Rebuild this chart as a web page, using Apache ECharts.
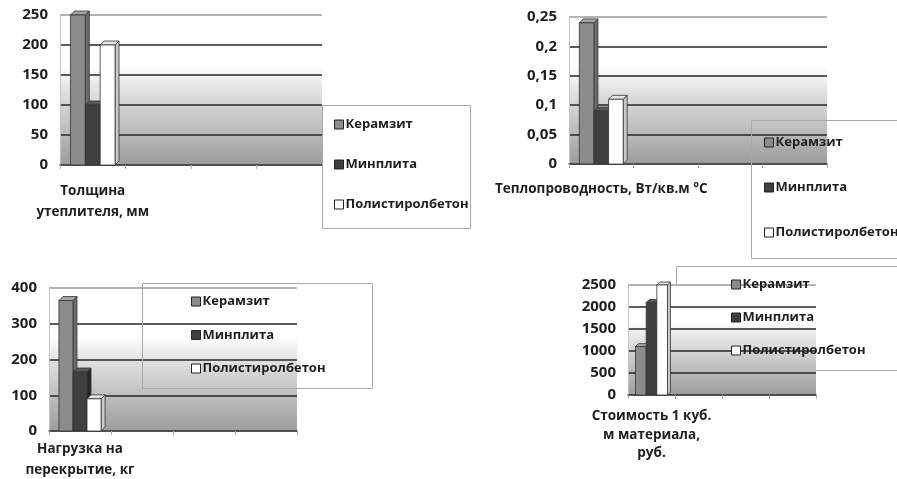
<!DOCTYPE html>
<html>
<head>
<meta charset="utf-8">
<script src="https://cdn.jsdelivr.net/npm/echarts@6/dist/echarts.min.js"></script>
<style>
  html, body { margin: 0; padding: 0; background: #fff; }
  #chart { width: 897px; height: 479px; }
</style>
</head>
<body>
<div id="chart"></div>
<script>
// Materials compared in every panel
const materials = ['Керамзит', 'Минплита', 'Полистиролбетон'];

// Category labels (only the first slot of each panel holds data)
const catThickness = ['Толщина\nутеплителя, мм', '', '', ''];
const catConductivity = ['Теплопроводность, Вт/кв.м °С', '', '', ''];
const catLoad = ['Нагрузка на\nперекрытие, кг', '', '', ''];
const catCost = ['Стоимость 1 куб.\nм материала,\nруб.', '', '', ''];

// Values per material: Керамзит, Минплита, Полистиролбетон
const thickness = [250, 100, 200];
const conductivity = [0.24, 0.09, 0.11];
const load = [365, 165, 90];
const cost = [1100, 2100, 2500];

// Value axis ranges: [max, step]
const axisThickness = [250, 50];
const axisConductivity = [0.25, 0.05];
const axisLoad = [400, 100];
const axisCost = [2500, 500];

const FONT = '"Open Sans", "Noto Sans", sans-serif';
const faces = [
  { front: '#8c8c8c', top: '#a4a4a4', side: '#6c6c6c' },
  { front: '#3f3f3f', top: '#5a5a5a', side: '#262626' },
  { front: '#ffffff', top: '#e4e4e4', side: '#c9c9c9' }
];

const wallGradient = new echarts.graphic.LinearGradient(0, 0, 0, 1, [
  { offset: 0, color: '#ffffff' },
  { offset: 0.34, color: '#ffffff' },
  { offset: 0.5, color: '#e2e2e2' },
  { offset: 1, color: '#9c9c9c' }
]);

const panels = [
  { grid: { left: 60, top: 15, width: 262, height: 150 }, cats: catThickness, values: thickness, axis: axisThickness,
    labelMargin: 16, lineHeight: 21, depth: 4, fmt: v => String(v) },
  { grid: { left: 569, top: 17, width: 258, height: 147 }, cats: catConductivity, values: conductivity, axis: axisConductivity,
    labelMargin: 15, lineHeight: 20, depth: 4, fmt: v => String(+v.toFixed(2)).replace('.', ',') },
  { grid: { left: 49, top: 288, width: 248, height: 143 }, cats: catLoad, values: load, axis: axisLoad,
    labelMargin: 8, lineHeight: 21, depth: 4, fmt: v => String(v) },
  { grid: { left: 628, top: 285, width: 188, height: 110 }, cats: catCost, values: cost, axis: axisCost,
    labelMargin: 12, lineHeight: 18.5, depth: 3, fmt: v => String(v) }
];

function splitColors(axis) {
  const n = Math.round(axis[0] / axis[1]) + 1;
  const arr = [];
  for (let i = 0; i < n; i++) arr.push(i === 0 ? '#555' : (i === n - 1 ? '#9a9a9a' : '#262626'));
  return arr;
}

// 3D-looking column: front face, top face and right side face
function makeRenderer(idx, depth) {
  return function (params, api) {
    const base = api.coord([api.value(0), 0]);
    const tip = api.coord([api.value(0), api.value(1)]);
    const band = api.size([1, 0])[0];
    const groupW = band * 0.68;
    const bw = groupW / 3;
    const x = base[0] - groupW / 2 + idx * bw;
    const yTop = tip[1];
    const yBot = base[1];
    const d = depth;
    const f = faces[idx];
    const stroke = { stroke: '#333', lineWidth: 0.8 };
    return {
      type: 'group',
      children: [
        { type: 'polygon', shape: { points: [[x + bw, yTop], [x + bw + d, yTop - d], [x + bw + d, yBot - d], [x + bw, yBot]] },
          style: Object.assign({ fill: f.side }, stroke) },
        { type: 'polygon', shape: { points: [[x, yTop], [x + d, yTop - d], [x + bw + d, yTop - d], [x + bw, yTop]] },
          style: Object.assign({ fill: f.top }, stroke) },
        { type: 'rect', shape: { x: x, y: yTop, width: bw, height: yBot - yTop },
          style: Object.assign({ fill: f.front }, stroke) }
      ]
    };
  };
}

const grid = [], xAxis = [], yAxis = [], series = [];
panels.forEach((p, k) => {
  grid.push(Object.assign({ show: true, backgroundColor: wallGradient, borderWidth: 0,
    containLabel: false, outerBoundsMode: 'none' }, p.grid));
  xAxis.push({
    type: 'category', gridIndex: k, data: p.cats, boundaryGap: true,
    axisLine: { lineStyle: { color: '#444', width: 1.6 } },
    axisTick: { show: true, length: 4, lineStyle: { color: '#aaa' } },
    axisLabel: { interval: 0, margin: p.labelMargin, color: '#1e1e1e', fontFamily: FONT, fontWeight: 'bold',
      fontSize: 13.5, lineHeight: p.lineHeight, align: 'center' }
  });
  yAxis.push({
    type: 'value', gridIndex: k, min: 0, max: p.axis[0], interval: p.axis[1],
    axisLine: { show: true, lineStyle: { color: '#c4c4c4', width: 1 } },
    axisTick: { show: false },
    axisLabel: { margin: 12, color: '#1e1e1e', fontFamily: FONT, fontWeight: 'bold', fontSize: 15, formatter: p.fmt },
    splitLine: { show: true, lineStyle: { color: splitColors(p.axis), width: 1.6 } }
  });
  materials.forEach((name, i) => {
    series.push({
      type: 'custom', name: name, xAxisIndex: k, yAxisIndex: k,
      itemStyle: { color: faces[i].front },
      renderItem: makeRenderer(i, p.depth),
      encode: { x: 0, y: 1 },
      data: [[0, p.values[i]]]
    });
  });
});

// Legend placement per panel: icon column x, top of first row, spacing between rows
const legendSpots = [
  { left: 334, top: 118, gap: 27 },
  { left: 764, top: 136, gap: 32 },
  { left: 191, top: 295, gap: 20.5 },
  { left: 731, top: 278, gap: 20 }
];
const legend = legendSpots.map(s => ({
  orient: 'vertical', left: s.left, top: s.top, itemGap: s.gap, padding: 0,
  icon: 'rect', itemWidth: 9, itemHeight: 9,
  itemStyle: { borderColor: '#222', borderWidth: 1 },
  textStyle: { fontFamily: FONT, fontWeight: 'bold', fontSize: 13, color: '#1e1e1e', padding: [0, 0, 0, -3] },
  selectedMode: false,
  data: materials
}));

// Legend frames
const frameStyle = { fill: 'none', stroke: '#a8a8a8', lineWidth: 1 };
const graphic = [
  { type: 'rect', shape: { x: 322.5, y: 105.5, width: 148, height: 123 }, style: frameStyle, z: 5 },
  { type: 'rect', shape: { x: 751.5, y: 120.5, width: 160, height: 138 }, style: frameStyle, z: 5 },
  { type: 'rect', shape: { x: 142.5, y: 283.5, width: 230, height: 105 }, style: frameStyle, z: 5 },
  { type: 'rect', shape: { x: 676.5, y: 266.5, width: 240, height: 104 }, style: frameStyle, z: -1 }
];

const chart = echarts.init(document.getElementById('chart'), null, { renderer: 'canvas' });
chart.setOption({
  animation: false,
  backgroundColor: '#ffffff',
  grid: grid, xAxis: xAxis, yAxis: yAxis, series: series, legend: legend, graphic: graphic
});
</script>
</body>
</html>
